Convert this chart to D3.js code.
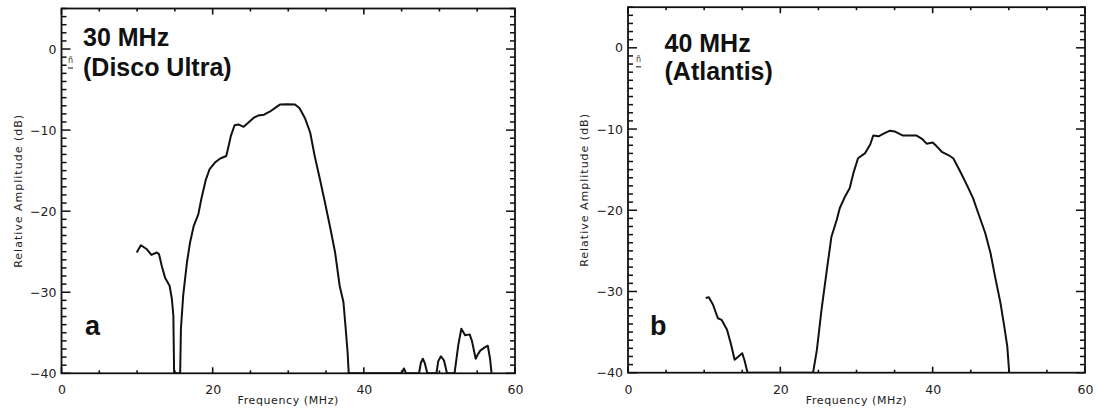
<!DOCTYPE html>
<html><head><meta charset="utf-8">
<script src="https://cdn.jsdelivr.net/npm/d3@7"></script>
<style>
html,body{margin:0;padding:0;background:#fff;}
</style></head>
<body>
<script>
// ---- data ----
const freqA = [9.95, 10.5, 11.3, 11.9, 12.6, 12.9, 13.25, 13.7, 14.3, 14.6, 14.8, 14.9, 15.7, 15.8, 16.1, 16.6, 17.0, 17.5, 18.1, 18.5, 19.1, 19.6, 20.3, 21.0, 21.8, 22.1, 22.4, 22.9, 23.4, 24.1, 24.7, 25.4, 26.0, 26.8, 27.6, 28.5, 28.9, 29.8, 30.9, 31.5, 32.2, 32.9, 33.5, 34.2, 34.85, 35.5, 36.2, 36.8, 37.3, 37.6, 37.85, 38.0, 45.0, 45.3, 45.6, 47.3, 47.55, 47.8, 48.05, 48.4, 49.6, 49.85, 50.2, 50.6, 51.0, 52.0, 52.5, 52.9, 53.4, 54.0, 54.3, 54.8, 55.0, 55.4, 56.0, 56.4, 56.7, 56.9];
const dbA   = [-25.1, -24.2, -24.7, -25.4, -25.1, -25.3, -26.7, -28.2, -29.2, -30.8, -32.9, -40, -40, -34.5, -30.4, -26.3, -23.9, -21.8, -20.4, -18.5, -16.1, -14.8, -14.0, -13.5, -13.2, -12.0, -10.75, -9.4, -9.3, -9.6, -9.1, -8.5, -8.2, -8.1, -7.7, -7.1, -6.85, -6.8, -6.85, -7.3, -8.5, -10.3, -13.2, -16.1, -18.9, -21.8, -25.1, -29.2, -31.2, -34.5, -37.4, -40, -40, -39.4, -40, -40, -38.7, -38.2, -38.7, -40, -40, -38.5, -37.9, -38.4, -40, -40, -36.5, -34.5, -35.3, -35.2, -36.0, -38.2, -37.8, -37.2, -36.8, -36.6, -38.2, -40];

const freqB = [10.2, 10.6, 11.15, 11.8, 12.3, 13.0, 13.5, 14.0, 14.5, 15.0, 15.3, 15.7, 24.3, 24.8, 25.4, 26.1, 26.7, 27.4, 27.8, 28.5, 29.1, 29.6, 30.2, 31.1, 31.8, 32.2, 32.9, 33.5, 34.4, 35.0, 36.1, 37.9, 38.6, 39.2, 40.0, 40.5, 41.2, 42.05, 42.7, 43.6, 44.5, 45.3, 46.0, 46.9, 47.6, 48.2, 48.9, 49.4, 49.8, 50.05];
const dbB   = [-30.8, -30.7, -31.6, -33.3, -33.5, -34.7, -36.4, -38.4, -38.0, -37.6, -38.5, -40, -40, -37.2, -32.3, -27.4, -23.3, -21.2, -19.75, -18.3, -17.3, -15.4, -13.6, -13.0, -11.9, -10.8, -10.9, -10.6, -10.2, -10.3, -10.8, -10.8, -11.2, -11.8, -11.65, -12.1, -12.8, -13.2, -13.6, -15.2, -16.9, -18.5, -20.4, -22.8, -25.3, -28.2, -31.4, -34.3, -36.8, -40];

const xTicks = [0, 20, 40, 60];
const yTicks = [-40, -30, -20, -10, 0];
const titlesA = ["30 MHz", "(Disco Ultra)"];
const titlesB = ["40 MHz", "(Atlantis)"];
const letters = ["a", "b"];
const xLabel = "Frequency (MHz)";
const yLabel = "Relative Amplitude (dB)";

// ---- drawing ----
const W = 1098, H = 413;
const svg = d3.select("body").append("svg").attr("width", W).attr("height", H).style("display", "block");
const defs = svg.append("defs");

const panels = [
  {l: 61.5, r: 515, t: 8.5, b: 373.3, freq: freqA, db: dbA, titles: titlesA, letter: letters[0], tx: 83, ty: [45.7, 76], lx: 85, ly: 335, markX: 68},
  {l: 628, r: 1085, t: 7.2, b: 372.7, freq: freqB, db: dbB, titles: titlesB, letter: letters[1], tx: 664.5, ty: [51.5, 79.5], lx: 650, ly: 335, markX: 636}
];

const tickFont = "'DejaVu Sans', sans-serif";
const ink = "#111";

panels.forEach((p, i) => {
  const x = d3.scaleLinear().domain([0, 60]).range([p.l, p.r]);
  const y = d3.scaleLinear().domain([-40, 5]).range([p.b, p.t]);
  const g = svg.append("g");

  const clipId = "clip" + i;
  defs.append("clipPath").attr("id", clipId).append("rect")
    .attr("x", p.l).attr("y", p.t).attr("width", p.r - p.l).attr("height", p.b - p.t);

  const xMinor = d3.range(0, 61, 5).filter(v => xTicks.indexOf(v) < 0);
  const yMinor = d3.range(-40, 6, 1).filter(v => yTicks.indexOf(v) < 0);

  // frame
  g.append("rect").attr("x", p.l).attr("y", p.t).attr("width", p.r - p.l).attr("height", p.b - p.t)
    .attr("fill", "none").attr("stroke", ink).attr("stroke-width", 1.8);

  // tick marks, positions from the scales
  const tk = g.append("g").attr("fill", ink);
  const addV = (xx, y0, len) => tk.append("rect").attr("x", xx - 0.8).attr("y", Math.min(y0, y0 + len)).attr("width", 1.6).attr("height", Math.abs(len));
  const addH = (x0, yy, len) => tk.append("rect").attr("x", Math.min(x0, x0 + len)).attr("y", yy - 0.75).attr("width", Math.abs(len)).attr("height", 1.5);
  xTicks.forEach(v => { addV(x(v), p.b, -6); addV(x(v), p.t, 6); });
  xMinor.forEach(v => { addV(x(v), p.b, -3); addV(x(v), p.t, 3); });
  yTicks.forEach(v => { addH(p.l, y(v), 9); addH(p.r, y(v), -9); });
  yMinor.forEach(v => { addH(p.l, y(v), 5); addH(p.r, y(v), -5); });

  // tick labels via axes
  const bx = g.append("g").attr("transform", `translate(0,${p.b})`)
    .call(d3.axisBottom(x).tickValues(xTicks).tickSize(0).tickPadding(12).tickFormat(d3.format("d")));
  bx.select(".domain").remove();
  bx.selectAll("text").attr("font-family", tickFont).attr("font-size", 12.5).attr("fill", "#222");

  const lyAx = g.append("g").attr("transform", `translate(${p.l},0)`)
    .call(d3.axisLeft(y).tickValues(yTicks).tickSize(0).tickPadding(5));
  lyAx.select(".domain").remove();
  lyAx.selectAll("text").attr("font-family", tickFont).attr("font-size", 12.5).attr("fill", "#222");

  // curve
  const pts = p.freq.map((f, k) => [f, p.db[k]]);
  g.append("path").datum(pts)
    .attr("clip-path", `url(#${clipId})`)
    .attr("d", d3.line().x(d => x(d[0])).y(d => y(d[1])))
    .attr("fill", "none").attr("stroke", ink).attr("stroke-width", 2)
    .attr("stroke-linejoin", "round");

  // small mark near 0 dB
  g.append("text").attr("x", p.markX).attr("y", y(0) + 14).attr("font-family", tickFont)
    .attr("font-size", 8).attr("fill", "#333").text("ñ");
  g.append("line").attr("x1", p.markX).attr("x2", p.markX + 5).attr("y1", y(0) + 19).attr("y2", y(0) + 19)
    .attr("stroke", "#333").attr("stroke-width", 1.2);

  // titles
  p.titles.forEach((t, k) => {
    g.append("text").attr("x", p.tx).attr("y", p.ty[k])
      .attr("font-family", "'Liberation Sans', Arial, sans-serif").attr("font-weight", "bold")
      .attr("font-size", 25).attr("fill", "#111").text(t);
  });
  g.append("text").attr("x", p.lx).attr("y", p.ly)
    .attr("font-family", "'Liberation Sans', Arial, sans-serif").attr("font-weight", "bold")
    .attr("font-size", 27).attr("fill", "#111").text(p.letter);

  // axis titles
  g.append("text").attr("x", (p.l + p.r) / 2).attr("y", 404)
    .attr("text-anchor", "middle").attr("font-family", tickFont).attr("font-size", 11)
    .attr("letter-spacing", 0.6).attr("fill", "#222").text(xLabel);
  g.append("text")
    .attr("transform", `translate(${p.l - 40},${(p.t + p.b) / 2}) rotate(-90)`)
    .attr("text-anchor", "middle").attr("font-family", tickFont).attr("font-size", 11)
    .attr("letter-spacing", 1).attr("fill", "#222").text(yLabel);
});
</script>
</body></html>
